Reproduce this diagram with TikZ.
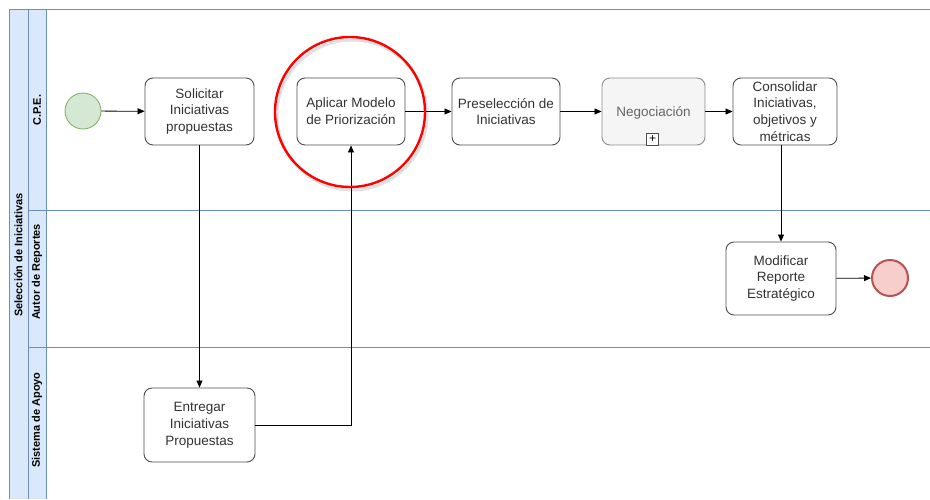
\documentclass[tikz,border=0pt]{standalone}
\usepackage{fontspec}
\setmainfont{Liberation Sans}
\usetikzlibrary{arrows.meta,calc}
\definecolor{lanefill}{HTML}{DAE8FC}
\definecolor{lanestroke}{HTML}{6C8EBF}
\definecolor{taskstroke}{HTML}{4D4D4D}
\definecolor{tasktext}{HTML}{333333}
\definecolor{subfill}{HTML}{F5F5F5}
\definecolor{substroke}{HTML}{8C8C8C}
\definecolor{subtext}{HTML}{666666}
\definecolor{startfill}{HTML}{D5E8D4}
\definecolor{startstroke}{HTML}{82B366}
\definecolor{endfill}{HTML}{F8CECC}
\definecolor{endstroke}{HTML}{B85450}
\definecolor{markred}{HTML}{FF0000}
\tikzset{
  task/.style={draw=taskstroke, line width=0.9pt, rounded corners=8pt, fill=white,
    text=tasktext, align=center, inner sep=0pt,
    font=\fontsize{13.5}{16.8}\selectfont},
  subproc/.style={task, fill=subfill, draw=substroke, text=subtext},
  startev/.style={circle, draw=startstroke, fill=startfill, line width=0.9pt,
    minimum size=36pt, inner sep=0pt},
  endev/.style={circle, draw=endstroke, fill=endfill, line width=2pt,
    minimum size=36pt, inner sep=0pt},
  flow/.style={draw=black, line width=0.8pt, -{Triangle[length=7pt,width=6pt]}},
  lanelabel/.style={rotate=90, font=\bfseries\fontsize{11}{12}\selectfont, text=black},
  laneline/.style={draw=lanestroke, line width=0.7pt}
}
\begin{document}
\begin{tikzpicture}[x=1pt, y=-1pt]
\useasboundingbox (0,0) rectangle (930,499);
\fill[white] (0,0) rectangle (930,499);

% pool and lane headers
\fill[lanefill] (9,9) rectangle (46,499);
\draw[laneline] (930,9) -- (9,9) -- (9,499);
\draw[laneline] (28,9) -- (28,499);
\draw[laneline] (46,9) -- (46,499);
\draw[laneline] (28,210) -- (930,210);
\draw[laneline] (28,347) -- (930,347);
\node[lanelabel] (pool) at (18.5,255) {Selección de Iniciativas};
\node[lanelabel] (lane1) at (37,110) {C.P.E.};
\node[lanelabel] (lane2) at (37,272) {Autor de Reportes};
\node[lanelabel] (lane3) at (37,420) {Sistema de Apoyo};

% events and tasks
\node[startev] (start) at (83,111) {};
\node[task, minimum width=109pt, minimum height=67pt] (solicitar) at (199.5,111.5) {Solicitar\\Iniciativas\\propuestas};
\node[task, minimum width=108pt, minimum height=67pt] (aplicar) at (351,111.5) {Aplicar Modelo\\de Priorización};
\node[task, minimum width=108pt, minimum height=67pt] (presel) at (506,111.5) {Preselección de\\Iniciativas};
\node[subproc, minimum width=103pt, minimum height=67pt, text depth=-1pt] (negoc) at (653.5,111.5) {Negociación};
\node[draw=taskstroke, fill=white, line width=0.8pt, minimum size=12pt, inner sep=0pt,
  font=\fontsize{12}{12}\selectfont] (plus) at (652.5,139) {+};
\node[task, minimum width=104pt, minimum height=67pt] (consol) at (785,111.5) {Consolidar\\Iniciativas,\\objetivos y\\métricas};
\node[task, minimum width=110pt, minimum height=73pt] (modif) at (781,278.5) {Modificar\\Reporte\\Estratégico};
\node[endev] (end) at (890,278) {};
\node[task, minimum width=111pt, minimum height=74pt] (entregar) at (199.5,425) {Entregar\\Iniciativas\\Propuestas};

% sequence flows
\draw[flow] (start) -- (solicitar);
\draw[flow] (solicitar.south) -- (entregar.north);
\draw[flow] (entregar.east) -| (aplicar.south);
\draw[flow] (aplicar) -- (presel);
\draw[flow] (presel) -- (negoc);
\draw[flow] (negoc) -- (consol);
\draw[flow] (consol.south -| modif.north) -- (modif.north);
\draw[flow] (modif) -- (end);

% highlight ring
\coordinate (ringc) at (350,112);
\draw[black, opacity=0.12, line width=3pt] ($(ringc)+(2,3)$) circle[radius=75];
\draw[markred, line width=2.4pt] (ringc) circle[radius=75];
\end{tikzpicture}
\end{document}
